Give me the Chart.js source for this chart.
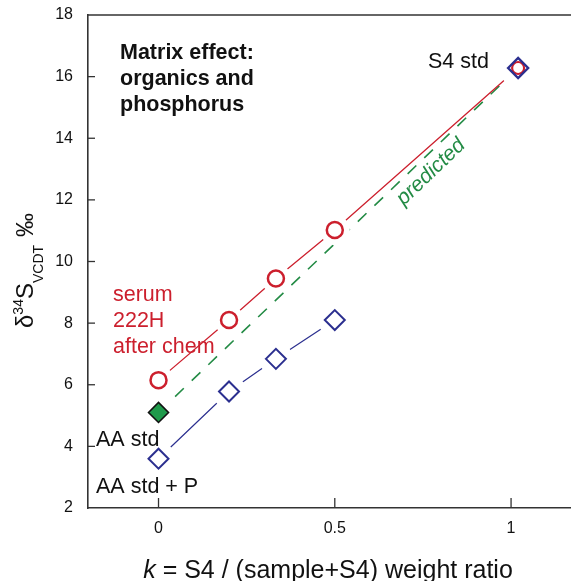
<!DOCTYPE html>
<html><head><meta charset="utf-8">
<script src="https://cdn.jsdelivr.net/npm/chart.js@4"></script>
<style>html,body{margin:0;padding:0;background:#fff;overflow:hidden}#wrap{width:571px;height:581px}</style>
</head><body><div id="wrap"><canvas id="c" width="571" height="581"></canvas></div>
<script>
// ---- data ----
const xTicks = [0, 0.5, 1];
const yTicks = [2, 4, 6, 8, 10, 12, 14, 16, 18];
const serumK = [0, 0.2, 0.333, 0.5];
const serumD = [6.15, 8.1, 9.45, 11.02];
const aapK = [0, 0.2, 0.333, 0.5];
const aapD = [3.6, 5.78, 6.84, 8.1];
const aaStdK = [0];
const aaStdD = [5.1];
const s4K = [1.02];
const s4D = [16.28];

const RED = '#cc1f2d', BLUE = '#2b2f8f', GREEN = '#238b45', GFILL = '#1f9a4b', AX = '#333';
const FONT = '"Liberation Sans", Arial, Helvetica, sans-serif';
const pts = (xs, ys) => xs.map((x, i) => ({x: x, y: ys[i]}));
const serumPts = pts(serumK, serumD);
const aapPts = pts(aapK, aapD);
const aaPts = pts(aaStdK, aaStdD);
const s4Pts = pts(s4K, s4D);

const line = (data, color, w, dash) => ({data, showLine: true, borderColor: color, borderWidth: w,
  borderDash: dash || [], pointRadius: 0, fill: false, order: 30});
const halo = (data, r) => ({data, showLine: false, pointRadius: r, pointBackgroundColor: '#fff',
  pointBorderWidth: 0, pointBorderColor: 'rgba(0,0,0,0)', order: 20});
const marker = (data, style, r, bg, bc, bw, order) => ({data, showLine: false, pointStyle: style,
  pointRadius: r, pointBackgroundColor: bg, pointBorderColor: bc, pointBorderWidth: bw, order});

const noPad = s => { s.paddingLeft = 0; s.paddingRight = 0; s.paddingTop = 0; s.paddingBottom = 0; };

const framePlugin = {
  id: 'frame',
  beforeDatasetsDraw(chart) {
    const {ctx, chartArea: a, scales: {x, y}} = chart;
    ctx.save();
    ctx.strokeStyle = AX;
    ctx.lineWidth = 1.6;
    ctx.beginPath(); ctx.moveTo(a.left, a.top); ctx.lineTo(a.right, a.top); ctx.stroke();
    ctx.lineWidth = 1.3;
    yTicks.forEach(v => {
      if (v === y.min || v === y.max) return;
      const py = y.getPixelForValue(v);
      ctx.beginPath(); ctx.moveTo(a.left, py); ctx.lineTo(a.left + 7, py); ctx.stroke();
    });
    xTicks.forEach(v => {
      const px = x.getPixelForValue(v);
      ctx.beginPath(); ctx.moveTo(px, a.bottom); ctx.lineTo(px, a.bottom - 10); ctx.stroke();
    });
    ctx.restore();
  }
};

const textPlugin = {
  id: 'texts',
  afterDraw(chart) {
    const {ctx, scales: {x, y}} = chart;
    ctx.save();
    ctx.textBaseline = 'alphabetic';
    ctx.textAlign = 'left';
    ctx.fillStyle = '#111';
    ctx.font = 'bold 21.5px ' + FONT;
    ctx.fillText('Matrix effect:', 120, 59);
    ctx.fillText('organics and', 120, 85);
    ctx.fillText('phosphorus', 120, 111);
    ctx.font = '21.5px ' + FONT;
    ctx.fillText('S4 std', 428, 68);
    ctx.fillText('AA std', 96, 446);
    ctx.fillText('AA std + P', 96, 493);
    ctx.fillStyle = RED;
    ctx.fillText('serum', 113, 301);
    ctx.fillText('222H', 113, 327);
    ctx.fillText('after chem', 113, 353);
    // predicted label along the dashed line
    const x0 = x.getPixelForValue(aaStdK[0]), y0 = y.getPixelForValue(aaStdD[0]);
    const x1 = x.getPixelForValue(s4K[0]), y1 = y.getPixelForValue(s4D[0]);
    const ang = Math.atan2(y1 - y0, x1 - x0);
    ctx.save();
    ctx.translate(431, 172);
    ctx.rotate(ang);
    ctx.fillStyle = GREEN;
    ctx.font = 'italic 21px ' + FONT;
    ctx.textAlign = 'center';
    ctx.textBaseline = 'middle';
    ctx.fillText('predicted', 0, 0);
    ctx.restore();
    // x axis title
    ctx.fillStyle = '#111';
    ctx.font = 'italic 25px ' + FONT;
    const kW = ctx.measureText('k').width;
    ctx.font = '25px ' + FONT;
    const rest = ' = S4 / (sample+S4) weight ratio';
    const rW = ctx.measureText(rest).width;
    const sx = 328 - (kW + rW) / 2;
    ctx.font = 'italic 25px ' + FONT;
    ctx.fillText('k', sx, 578);
    ctx.font = '25px ' + FONT;
    ctx.fillText(rest, sx + kW, 578);
    // y axis title (rotated, with super/subscripts)
    ctx.save();
    ctx.translate(33, 328);
    ctx.rotate(-Math.PI / 2);
    ctx.textAlign = 'left';
    let cx = 0;
    const part = (t, size, dy) => { ctx.font = size + 'px ' + FONT; ctx.fillText(t, cx, dy); cx += ctx.measureText(t).width; };
    part('\u03b4', 24, 0);
    part('34', 14, -10);
    part('S', 24, 0);
    part('VCDT', 14, 10);
    cx += 8;
    part('\u2030', 24, 0);
    ctx.restore();
    ctx.restore();
  }
};

new Chart(document.getElementById('c'), {
  type: 'scatter',
  data: {
    datasets: [
      line(serumPts.concat(s4Pts), RED, 1.3),
      line(aapPts, BLUE, 1.2),
      line(aaPts.concat(s4Pts), GREEN, 1.6, [12, 11]),
      halo(serumPts, 15),
      halo(aapPts, 17),
      halo(aaPts, 18),
      halo(s4Pts, 19),
      marker(serumPts, 'circle', 8, '#fff', RED, 2.5, 3),
      marker(s4Pts, 'circle', 6, '#fff', RED, 2.2, 3),
      marker(aapPts, 'rectRot', 10, '#fff', BLUE, 2, 2),
      marker(aaPts, 'rectRot', 10, GFILL, '#111', 1.6, 2),
      marker(s4Pts, 'rectRot', 10, 'rgba(0,0,0,0)', BLUE, 2.4, 1)
    ]
  },
  options: {
    responsive: false,
    animation: false,
    events: [],
    layout: {autoPadding: false, padding: {top: 15, right: 0, left: 0, bottom: 0}},
    plugins: {legend: {display: false}, tooltip: {enabled: false}},
    scales: {
      x: {
        type: 'linear', min: -0.2, max: 1.17,
        afterBuildTicks: s => { s.ticks = xTicks.map(v => ({value: v})); },
        afterFit: s => { s.height = 73; noPad(s); },
        ticks: {font: {family: FONT, size: 16}, color: '#111', padding: 11, callback: v => String(v)},
        grid: {display: false, drawTicks: false},
        border: {display: true, color: AX, width: 1.6}
      },
      y: {
        type: 'linear', min: 2, max: 18,
        afterBuildTicks: s => { s.ticks = yTicks.map(v => ({value: v})); },
        afterFit: s => { s.width = 88; noPad(s); },
        ticks: {font: {family: FONT, size: 16}, color: '#111', padding: 15, callback: v => String(v)},
        grid: {display: false, drawTicks: false},
        border: {display: true, color: AX, width: 1.6}
      }
    }
  },
  plugins: [framePlugin, textPlugin]
});
</script>
</body></html>
